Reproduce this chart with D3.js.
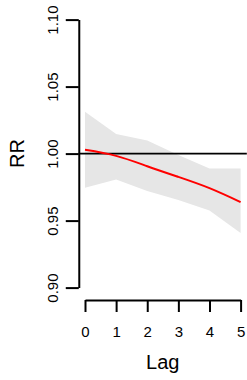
<!DOCTYPE html>
<html>
<head>
<meta charset="utf-8">
<script src="https://cdn.jsdelivr.net/npm/d3@7"></script>
<style>
  html, body { margin: 0; padding: 0; background: #fff; }
  text { font-family: "Liberation Sans", Arial, sans-serif; fill: #000; }
</style>
</head>
<body>
<div id="chart"></div>
<script>
// lag-response: relative risk by lag, with confidence band
const lags = [0, 1, 2, 3, 4, 5];
const rrFit = [1.0028, 0.9983, 0.9906, 0.9826, 0.9742, 0.9638];
const rrLow = [0.9745, 0.9807, 0.9720, 0.9653, 0.9576, 0.9407];
const rrHigh = [1.0313, 1.0147, 1.0097, 0.9990, 0.9888, 0.9888];
const yTicks = [0.90, 0.95, 1.00, 1.05, 1.10];

const width = 247, height = 380;

const svg = d3.select("#chart")
      .append("svg")
      .attr("width", width)
      .attr("height", height);

const x = d3.scaleLinear().domain([0, 5]).range([85, 240.6]);
const y = d3.scaleLinear().domain([0.9, 1.1]).range([287.6, 19.6]);

// plot region (R adds 4% on each side)
const plotLeft = x(-0.2), plotRight = x(5.2);

const rows = lags.map((l, i) => ({lag: l, fit: rrFit[i], lo: rrLow[i], hi: rrHigh[i]}));

svg.append("path")
    .datum(rows)
    .attr("d", d3.area()
        .x(d => x(d.lag))
        .y0(d => y(d.lo))
        .y1(d => y(d.hi)))
    .attr("fill", "#e6e6e6")
    .attr("stroke", "none");

svg.append("line")
    .attr("x1", plotLeft).attr("x2", plotRight)
    .attr("y1", y(1)).attr("y2", y(1))
    .attr("stroke", "black")
    .attr("stroke-width", 1.8);

svg.append("path")
    .datum(rows)
    .attr("d", d3.line()
        .curve(d3.curveNatural)
        .x(d => x(d.lag))
        .y(d => y(d.fit)))
    .attr("fill", "none")
    .attr("stroke", "#ff0000")
    .attr("stroke-width", 2);

// y axis
const yAxis = svg.append("g")
    .attr("transform", `translate(${plotLeft},0)`)
    .call(d3.axisLeft(y).tickValues(yTicks).tickFormat(d3.format(".2f")).tickSize(13).tickSizeOuter(0));
yAxis.select(".domain").attr("stroke-width", 2);
yAxis.selectAll(".tick line").attr("stroke-width", 2);
yAxis.selectAll(".tick text")
    .attr("font-size", 15)
    .attr("transform", "rotate(-90)")
    .attr("x", 0)
    .attr("y", -21)
    .attr("dy", 0)
    .attr("text-anchor", "middle");

// x axis
const xAxisY = 300;
const xAxis = svg.append("g")
    .attr("transform", `translate(0,${xAxisY})`)
    .call(d3.axisBottom(x).tickValues(lags).tickFormat(d3.format("d")).tickSize(12).tickSizeOuter(0));
xAxis.select(".domain").attr("stroke-width", 2);
xAxis.selectAll(".tick line").attr("stroke-width", 2);
xAxis.selectAll(".tick text")
    .attr("font-size", 15)
    .attr("y", 37)
    .attr("dy", 0);

svg.selectAll(".domain, .tick line").attr("stroke", "black");
svg.selectAll("g text").attr("font-family", "Liberation Sans, Arial, sans-serif").attr("fill", "black");

svg.append("text")
    .attr("x", (plotLeft + plotRight) / 2)
    .attr("y", 369)
    .attr("text-anchor", "middle")
    .attr("font-size", 20)
    .text("Lag");

svg.append("text")
    .attr("transform", `translate(23.5,${(y(1.108) + y(0.892)) / 2}) rotate(-90)`)
    .attr("text-anchor", "middle")
    .attr("font-size", 20)
    .text("RR");
</script>
</body>
</html>
